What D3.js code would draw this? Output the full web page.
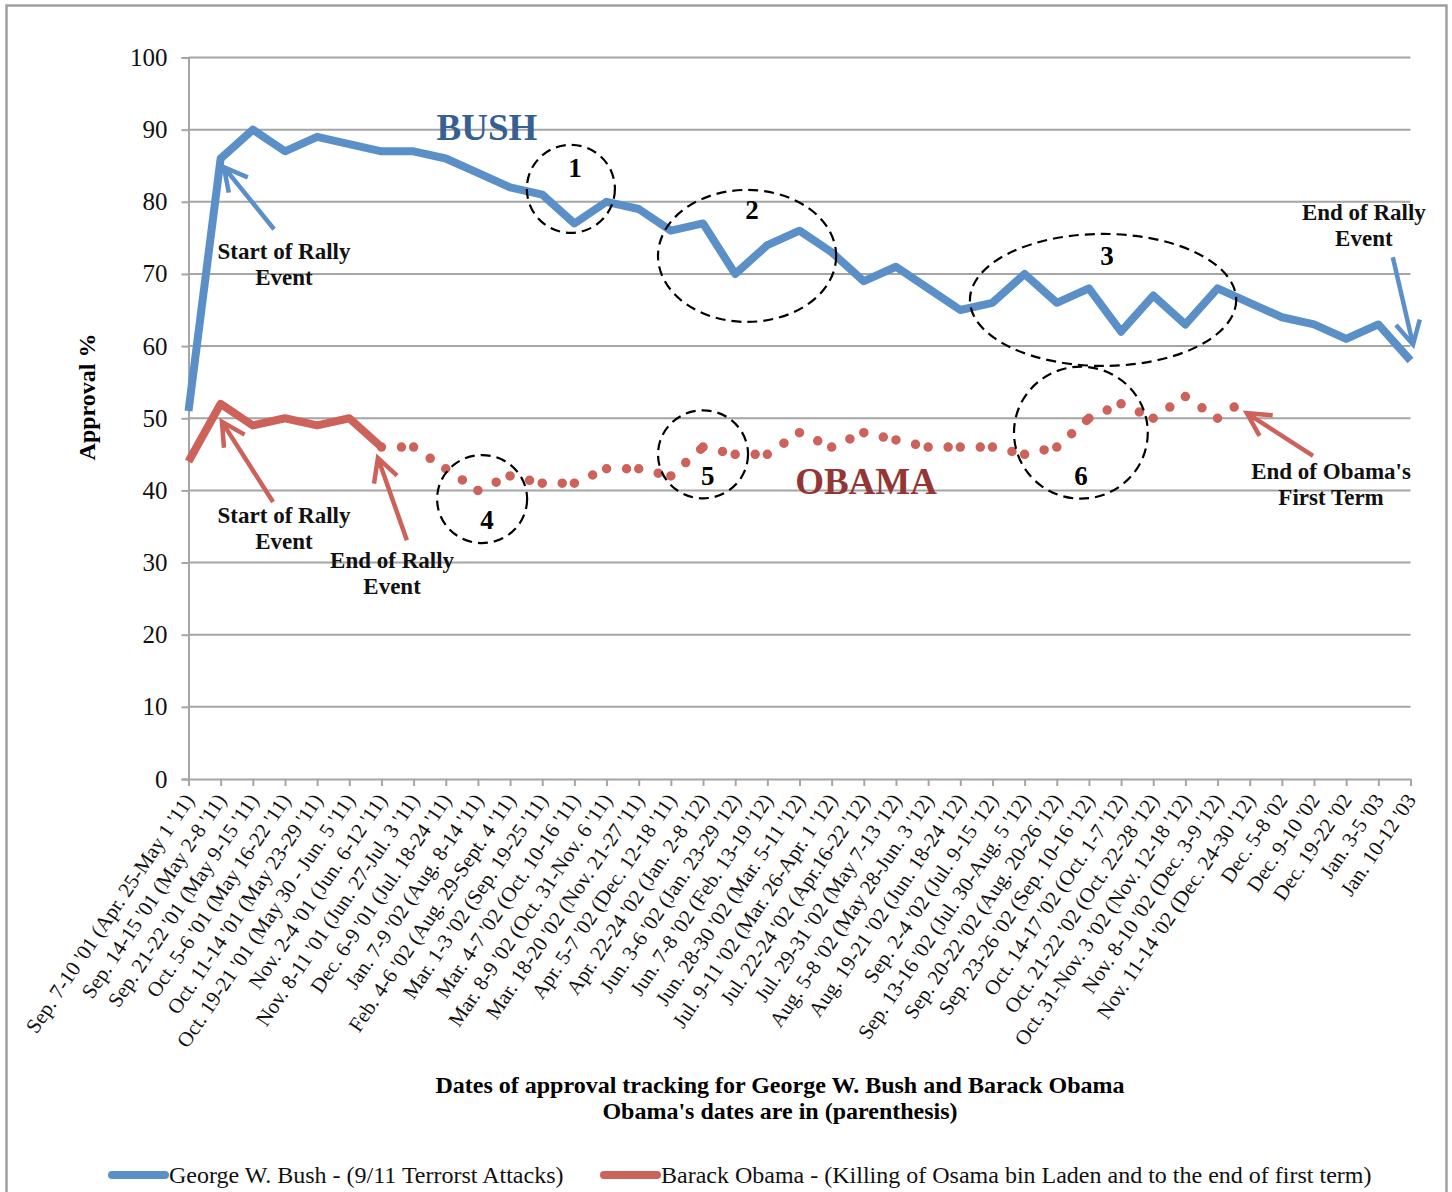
<!DOCTYPE html>
<html>
<head>
<meta charset="utf-8">
<script src="https://cdn.jsdelivr.net/npm/d3@7"></script>
<style>
  html, body { margin: 0; padding: 0; background: #fff; }
  svg { display: block; }
</style>
</head>
<body>
<script>
// Survey periods (Bush dates, with Obama's matching dates in parentheses)
const categories = [
  "Sep. 7-10 '01 (Apr. 25-May 1 '11)",
  "Sep. 14-15 '01 (May 2-8 '11)",
  "Sep. 21-22 '01 (May 9-15 '11)",
  "Oct. 5-6 '01 (May 16-22 '11)",
  "Oct. 11-14 '01 (May 23-29 '11)",
  "Oct. 19-21 '01 (May 30 - Jun. 5 '11)",
  "Nov. 2-4 '01 (Jun. 6-12 '11)",
  "Nov. 8-11 '01 (Jun. 27-Jul. 3 '11)",
  "Dec. 6-9 '01 (Jul. 18-24 '11)",
  "Jan. 7-9 '02 (Aug. 8-14 '11)",
  "Feb. 4-6 '02 (Aug. 29-Sept. 4 '11)",
  "Mar. 1-3 '02 (Sep. 19-25 '11)",
  "Mar. 4-7 '02 (Oct. 10-16 '11)",
  "Mar. 8-9 '02 (Oct. 31-Nov. 6 '11)",
  "Mar. 18-20 '02 (Nov. 21-27 '11)",
  "Apr. 5-7 '02 (Dec. 12-18 '11)",
  "Apr. 22-24 '02 (Jan. 2-8 '12)",
  "Jun. 3-6 '02 (Jan. 23-29 '12)",
  "Jun. 7-8 '02 (Feb. 13-19 '12)",
  "Jun. 28-30 '02 (Mar. 5-11 '12)",
  "Jul. 9-11 '02 (Mar. 26-Apr. 1 '12)",
  "Jul. 22-24 '02 (Apr.16-22 '12)",
  "Jul. 29-31 '02 (May 7-13 '12)",
  "Aug. 5-8 '02 (May 28-Jun. 3 '12)",
  "Aug. 19-21 '02 (Jun. 18-24 '12)",
  "Sep. 2-4 '02 (Jul. 9-15 '12)",
  "Sep. 13-16 '02 (Jul. 30-Aug. 5 '12)",
  "Sep. 20-22 '02 (Aug. 20-26 '12)",
  "Sep. 23-26 '02 (Sep. 10-16 '12)",
  "Oct. 14-17 '02 (Oct. 1-7 '12)",
  "Oct. 21-22 '02 (Oct. 22-28 '12)",
  "Oct. 31-Nov. 3 '02 (Nov. 12-18 '12)",
  "Nov. 8-10 '02 (Dec. 3-9 '12)",
  "Nov. 11-14 '02 (Dec. 24-30 '12)",
  "Dec. 5-8 '02",
  "Dec. 9-10 '02",
  "Dec. 19-22 '02",
  "Jan. 3-5 '03",
  "Jan. 10-12 '03"
];

// Approval %, George W. Bush
const bushApproval = [51, 86, 90, 87, 89, 88, 87, 87, 86, 84, 82, 81, 77, 80, 79, 76, 77, 70, 74, 76,
  73, 69, 71, 68, 65, 66, 70, 66, 68, 62, 67, 63, 68, 66, 64, 63, 61, 63, 58];

// Approval %, Barack Obama
const obamaApproval = [44, 52, 49, 50, 49, 50, 46, 46, 43, 40, 42, 41, 41, 43, 43, 42, 46, 45, 45, 48,
  46, 48, 47, 46, 46, 46, 45, 46, 50, 52, 50, 53, 50, 53];

// Last index of the rally period (solid); later weeks are drawn dotted
const obamaRallyEnd = 6;

const yTicks = [0, 10, 20, 30, 40, 50, 60, 70, 80, 90, 100];

const seriesNames = [
  "George W. Bush - (9/11 Terrorst Attacks)",
  "Barack Obama - (Killing of Osama bin Laden and to the end of first term)"
];

const W = 1452, H = 1192;
const BLUE = "#5b8fc8", RED = "#cd625a", GRID = "#a5a5a5";
const SERIF = "'Liberation Serif', 'Times New Roman', serif";

const svg = d3.select("body").append("svg").attr("width", W).attr("height", H);

// outer chart frame
svg.append("rect")
  .attr("x", 6.5).attr("y", 5.5).attr("width", 1440).attr("height", 1210)
  .attr("fill", "none").attr("stroke", "#a0a0a0").attr("stroke-width", 2.5);

const x = d3.scalePoint().domain(d3.range(categories.length)).range([188.5, 1410.5]);
const y = d3.scaleLinear().domain([0, 100]).range([779, 57.5]);

// horizontal gridlines
svg.append("g").selectAll("line").data(yTicks.slice(1)).join("line")
  .attr("x1", 188.5).attr("x2", 1410.5)
  .attr("y1", d => y(d)).attr("y2", d => y(d))
  .attr("stroke", GRID).attr("stroke-width", 2);

// y axis
const yAxis = svg.append("g").attr("transform", "translate(188.5,0)")
  .call(d3.axisLeft(y).tickValues(yTicks).tickSize(7).tickPadding(14).tickFormat(d3.format("d")));
yAxis.select(".domain").attr("stroke", GRID).attr("stroke-width", 2);
yAxis.selectAll(".tick line").attr("stroke", GRID).attr("stroke-width", 2);
yAxis.selectAll(".tick text").attr("font-family", SERIF).attr("font-size", 25).attr("fill", "#111");

// x axis
const xAxis = svg.append("g").attr("transform", "translate(0,779)")
  .call(d3.axisBottom(x).tickSize(7).tickSizeOuter(0).tickFormat(i => categories[i]));
xAxis.select(".domain").attr("stroke", GRID).attr("stroke-width", 2);
xAxis.selectAll(".tick line").attr("stroke", GRID).attr("stroke-width", 2);
xAxis.selectAll(".tick text")
  .attr("font-family", SERIF).attr("font-size", 21).attr("fill", "#111")
  .attr("text-anchor", "end")
  .attr("x", 0).attr("y", 0).attr("dy", 0)
  .attr("transform", "translate(6,21) rotate(-56)");

// Bush line
const line = d3.line().x((d, i) => x(i)).y(d => y(d)).curve(d3.curveLinear);
svg.append("path").datum(bushApproval)
  .attr("d", line).attr("fill", "none")
  .attr("stroke", BLUE).attr("stroke-width", 8).attr("stroke-linejoin", "round");

// Obama: solid through the rally period
const lineIdx = d3.line().x(i => x(i)).y(i => y(obamaApproval[i]));
svg.append("path").datum(d3.range(0, obamaRallyEnd + 1))
  .attr("d", lineIdx).attr("fill", "none")
  .attr("stroke", RED).attr("stroke-width", 8).attr("stroke-linejoin", "round");

// Obama: round-dot segments afterwards (pattern restarts at each week)
svg.append("g").selectAll("path")
  .data(d3.range(obamaRallyEnd, obamaApproval.length - 1))
  .join("path")
  .attr("d", i => lineIdx([i, i + 1]))
  .attr("fill", "none").attr("stroke", RED).attr("stroke-width", 9.5)
  .attr("stroke-linecap", "round").attr("stroke-dasharray", "0 20");

// dashed ellipses with numbers (centre and radii in axis units)
const rings = [
  { n: "1", cx: 11.89, cy: 81.8, rx: 1.37, ry: 6.1, lx: 12.02, ly: 84.8 },
  { n: "2", cx: 17.37, cy: 72.5, rx: 2.77, ry: 9.15, lx: 17.52, ly: 78.9 },
  { n: "3", cx: 28.44, cy: 66.4, rx: 4.14, ry: 9.15, lx: 28.56, ly: 72.6 },
  { n: "4", cx: 9.13, cy: 38.8, rx: 1.4, ry: 6.1, lx: 9.28, ly: 36.0 },
  { n: "5", cx: 16.0, cy: 45.0, rx: 1.4, ry: 6.1, lx: 16.15, ly: 42.0 },
  { n: "6", cx: 27.75, cy: 48.0, rx: 2.08, ry: 9.15, lx: 27.75, ly: 42.1 }
];
const step = x.step();
const unitY = y(0) - y(1);
const ringG = svg.append("g");
ringG.selectAll("ellipse").data(rings).join("ellipse")
  .attr("cx", d => x(0) + d.cx * step).attr("cy", d => y(d.cy))
  .attr("rx", d => d.rx * step).attr("ry", d => d.ry * unitY)
  .attr("fill", "none").attr("stroke", "#000").attr("stroke-width", 2.2)
  .attr("stroke-dasharray", "10 6");
ringG.selectAll("text").data(rings).join("text")
  .attr("x", d => x(0) + d.lx * step).attr("y", d => y(d.ly))
  .attr("dy", "0.35em").attr("text-anchor", "middle")
  .attr("font-family", SERIF).attr("font-weight", "bold").attr("font-size", 27)
  .text(d => d.n);

// arrows (tail -> tip, axis units)
const arrows = [
  { c: BLUE, t: [2.66, 76.2], h: [1.10, 84.8] },
  { c: BLUE, t: [37.45, 72.3], h: [38.08, 60.2] },
  { c: RED, t: [2.63, 38.4], h: [1.04, 49.5] },
  { c: RED, t: [6.79, 33.1], h: [5.89, 44.5] },
  { c: RED, t: [34.97, 44.8], h: [32.91, 50.7] }
];
const arrowG = svg.append("g");
arrows.forEach(a => {
  const tx = x(0) + a.t[0] * step, ty = y(a.t[1]);
  const hx = x(0) + a.h[0] * step, hy = y(a.h[1]);
  const ang = Math.atan2(ty - hy, tx - hx);
  const L = 26, spread = 28 * Math.PI / 180;
  const p = d3.path();
  p.moveTo(tx, ty); p.lineTo(hx, hy);
  p.moveTo(hx + L * Math.cos(ang + spread), hy + L * Math.sin(ang + spread));
  p.lineTo(hx, hy);
  p.lineTo(hx + L * Math.cos(ang - spread), hy + L * Math.sin(ang - spread));
  arrowG.append("path").attr("d", p.toString())
    .attr("fill", "none").attr("stroke", a.c).attr("stroke-width", 4.5)
    .attr("stroke-linejoin", "miter");
});

// callout notes (two lines each)
const notes = [
  { lines: ["Start of Rally", "Event"], cx: 2.97, cy: 73.2 },
  { lines: ["Start of Rally", "Event"], cx: 2.97, cy: 36.6 },
  { lines: ["End of Rally", "Event"], cx: 6.33, cy: 30.4 },
  { lines: ["End of Rally", "Event"], cx: 36.55, cy: 78.6 },
  { lines: ["End of Obama's", "First Term"], cx: 35.53, cy: 42.7 }
];
notes.forEach(nt => {
  const t = svg.append("text")
    .attr("x", x(0) + nt.cx * step).attr("y", y(nt.cy))
    .attr("text-anchor", "middle").attr("font-family", SERIF)
    .attr("font-weight", "bold").attr("font-size", 23).attr("fill", "#111");
  nt.lines.forEach((s, k) => {
    t.append("tspan").attr("x", x(0) + nt.cx * step)
      .attr("dy", k === 0 ? "0.35em" : 26).text(s);
  });
});

// series name labels
svg.append("text").attr("x", x(0) + 9.28 * step).attr("y", y(90.4)).attr("dy", "0.35em")
  .attr("text-anchor", "middle").attr("font-family", SERIF).attr("font-weight", "bold")
  .attr("font-size", 37).attr("fill", "#376092").text("BUSH");
svg.append("text").attr("x", x(0) + 21.07 * step).attr("y", y(41.3)).attr("dy", "0.35em")
  .attr("text-anchor", "middle").attr("font-family", SERIF).attr("font-weight", "bold")
  .attr("font-size", 37).attr("fill", "#943634").text("OBAMA");

// axis titles
svg.append("text").attr("transform", "translate(87,397) rotate(-90)")
  .attr("dy", "0.35em").attr("text-anchor", "middle")
  .attr("font-family", SERIF).attr("font-weight", "bold").attr("font-size", 24)
  .text("Approval %");
const xt = svg.append("text").attr("text-anchor", "middle")
  .attr("font-family", SERIF).attr("font-weight", "bold").attr("font-size", 24);
xt.append("tspan").attr("x", 780).attr("y", 1093).text("Dates of approval tracking for George W. Bush and Barack Obama");
xt.append("tspan").attr("x", 780).attr("y", 1119).text("Obama's dates are in (parenthesis)");

// legend
const legend = [
  { name: seriesNames[0], c: BLUE, x0: 112 },
  { name: seriesNames[1], c: RED, x0: 604 }
];
legend.forEach(l => {
  svg.append("line").attr("x1", l.x0).attr("x2", l.x0 + 53)
    .attr("y1", 1175).attr("y2", 1175)
    .attr("stroke", l.c).attr("stroke-width", 8).attr("stroke-linecap", "round");
  svg.append("text").attr("x", l.x0 + 57).attr("y", 1175).attr("dy", "0.33em")
    .attr("font-family", SERIF).attr("font-size", 24).attr("fill", "#111")
    .text(l.name);
});
</script>
</body>
</html>
